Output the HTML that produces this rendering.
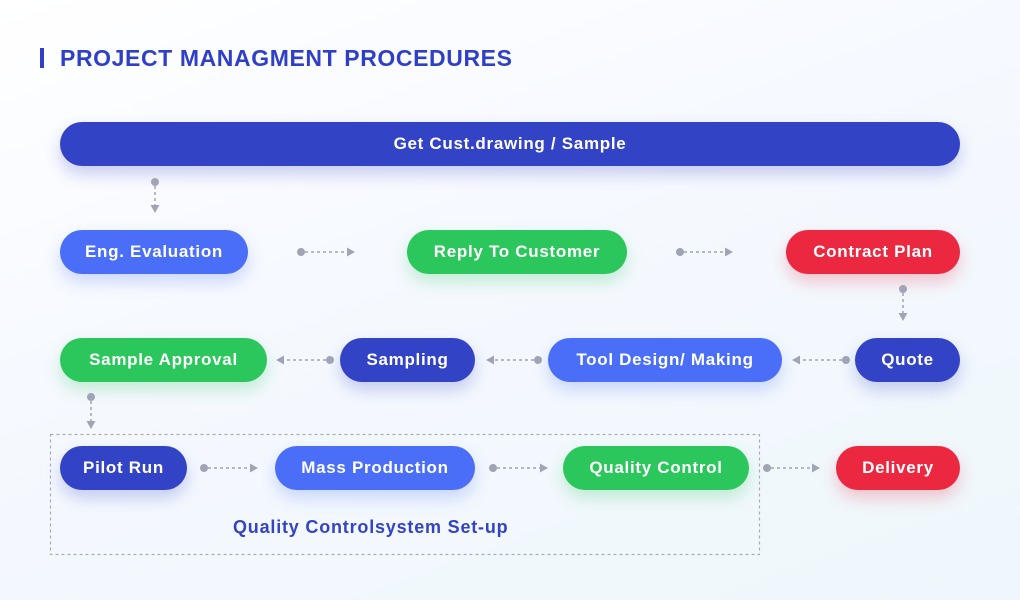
<!DOCTYPE html>
<html><head><meta charset="utf-8"><style>
html,body{margin:0;padding:0}
body{width:1020px;height:600px;position:relative;overflow:hidden;background:linear-gradient(160deg,#ffffff 0%,#f6f9ff 40%,#eef7fb 100%);font-family:"Liberation Sans",sans-serif}
.p{position:absolute;height:44px;border-radius:22px;color:#fff;font-weight:bold;font-size:17px;display:flex;align-items:center;justify-content:center;letter-spacing:0.7px}
.db{background:#3343c6;box-shadow:0 8px 16px rgba(51,67,198,.25)}
.b{background:#4a6ef8;box-shadow:0 8px 16px rgba(74,110,248,.25)}
.g{background:#2bc75c;box-shadow:0 8px 16px rgba(43,199,92,.25)}
.r{background:#ec2840;box-shadow:0 8px 16px rgba(236,40,64,.25)}
svg{position:absolute;left:0;top:0}
</style></head><body>
<div style="position:absolute;left:40px;top:48px;width:4px;height:20px;background:#2f3fc7"></div>
<div style="position:absolute;left:60px;top:45px;font-size:23px;font-weight:bold;color:#2f3fc7;letter-spacing:0.6px">PROJECT MANAGMENT PROCEDURES</div>

<div class="p db" style="left:60px;top:122px;width:900px">Get Cust.drawing / Sample</div>

<div class="p b" style="left:60px;top:230px;width:188px">Eng. Evaluation</div>
<div class="p g" style="left:407px;top:230px;width:220px">Reply To Customer</div>
<div class="p r" style="left:786px;top:230px;width:174px">Contract Plan</div>

<div class="p g" style="left:60px;top:338px;width:207px">Sample Approval</div>
<div class="p db" style="left:340px;top:338px;width:135px">Sampling</div>
<div class="p b" style="left:548px;top:338px;width:234px">Tool Design/ Making</div>
<div class="p db" style="left:855px;top:338px;width:105px">Quote</div>

<div class="p db" style="left:60px;top:446px;width:127px">Pilot Run</div>
<div class="p b" style="left:275px;top:446px;width:200px">Mass Production</div>
<div class="p g" style="left:563px;top:446px;width:186px">Quality Control</div>
<div class="p r" style="left:836px;top:446px;width:124px">Delivery</div>

<div style="position:absolute;left:233px;top:517px;font-size:18px;font-weight:bold;color:#3343c6;letter-spacing:0.8px">Quality Controlsystem Set-up</div>

<svg width="1020" height="600" viewBox="0 0 1020 600">
<rect x="50.5" y="434.5" width="709" height="120" fill="none" stroke="#a9acb8" stroke-width="1.2" stroke-dasharray="3,3"/>
<g fill="#a0a4b4" stroke="#a0a4b4" stroke-width="1.5">
<circle cx="155" cy="182" r="4" stroke="none"/><line x1="155" y1="186" x2="155" y2="205" stroke-dasharray="3,3"/><path d="M150.5 205 L159.5 205 L155 213Z" stroke="none"/>
<circle cx="903" cy="289" r="4" stroke="none"/><line x1="903" y1="293" x2="903" y2="313" stroke-dasharray="3,3"/><path d="M898.5 313 L907.5 313 L903 321Z" stroke="none"/>
<circle cx="91" cy="397" r="4" stroke="none"/><line x1="91" y1="401" x2="91" y2="421" stroke-dasharray="3,3"/><path d="M86.5 421 L95.5 421 L91 429Z" stroke="none"/>
<circle cx="301" cy="252" r="4" stroke="none"/><line x1="305" y1="252" x2="347" y2="252" stroke-dasharray="3,3"/><path d="M347 247.5 L347 256.5 L355 252Z" stroke="none"/>
<circle cx="680" cy="252" r="4" stroke="none"/><line x1="684" y1="252" x2="725" y2="252" stroke-dasharray="3,3"/><path d="M725 247.5 L725 256.5 L733 252Z" stroke="none"/>
<circle cx="204" cy="468" r="4" stroke="none"/><line x1="208" y1="468" x2="250" y2="468" stroke-dasharray="3,3"/><path d="M250 463.5 L250 472.5 L258 468Z" stroke="none"/>
<circle cx="493" cy="468" r="4" stroke="none"/><line x1="497" y1="468" x2="540" y2="468" stroke-dasharray="3,3"/><path d="M540 463.5 L540 472.5 L548 468Z" stroke="none"/>
<circle cx="767" cy="468" r="4" stroke="none"/><line x1="771" y1="468" x2="812" y2="468" stroke-dasharray="3,3"/><path d="M812 463.5 L812 472.5 L820 468Z" stroke="none"/>
<circle cx="846" cy="360" r="4" stroke="none"/><line x1="842" y1="360" x2="800" y2="360" stroke-dasharray="3,3"/><path d="M800 355.5 L800 364.5 L792 360Z" stroke="none"/>
<circle cx="538" cy="360" r="4" stroke="none"/><line x1="534" y1="360" x2="494" y2="360" stroke-dasharray="3,3"/><path d="M494 355.5 L494 364.5 L486 360Z" stroke="none"/>
<circle cx="330" cy="360" r="4" stroke="none"/><line x1="326" y1="360" x2="284" y2="360" stroke-dasharray="3,3"/><path d="M284 355.5 L284 364.5 L276 360Z" stroke="none"/>
</g>
</svg>
</body></html>
